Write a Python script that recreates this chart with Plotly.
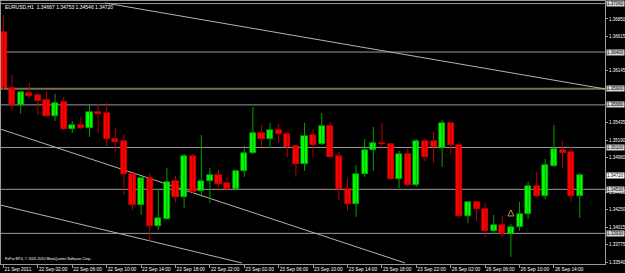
import plotly.graph_objects as go

# ---- data (EURUSD H1) ----
opens = [1.36673, 1.35910, 1.35679, 1.35842, 1.35815, 1.35747, 1.35529, 1.35720, 1.35352, 1.35407,
         1.35366, 1.35584, 1.35570, 1.35216, 1.35189, 1.34739, 1.34317, 1.34685, 1.34031, 1.34126,
         1.34644, 1.34426, 1.34984, 1.34508, 1.34644, 1.34726, 1.34617, 1.34535, 1.34780, 1.35025,
         1.35298, 1.35216, 1.35338, 1.35284, 1.35121, 1.34875, 1.35270, 1.35148, 1.35393, 1.34984,
         1.34535, 1.34331, 1.34739, 1.35066, 1.35161, 1.35148, 1.34671, 1.35012, 1.34590, 1.35189,
         1.35189, 1.35093, 1.35434, 1.35134, 1.34167, 1.34359, 1.34262, 1.33963, 1.34045, 1.33922,
         1.34017, 1.34194, 1.34576, 1.34440, 1.34848, 1.35066, 1.35039, 1.34440]
highs = [1.36905, 1.36088, 1.35870, 1.35979, 1.35829, 1.35870, 1.35829, 1.35788, 1.35461, 1.35515,
         1.35679, 1.35693, 1.35706, 1.35366, 1.35270, 1.34753, 1.34699, 1.34753, 1.34535, 1.34821,
         1.34712, 1.35012, 1.35012, 1.35270, 1.34821, 1.34807, 1.34699, 1.34794, 1.35121, 1.35652,
         1.35407, 1.35434, 1.35420, 1.35311, 1.35134, 1.35434, 1.35352, 1.35570, 1.35447, 1.35039,
         1.34685, 1.34862, 1.35216, 1.35379, 1.35434, 1.35161, 1.35052, 1.35093, 1.35216, 1.35216,
         1.35311, 1.35475, 1.35440, 1.35175, 1.34371, 1.34365, 1.34344, 1.34181, 1.34167, 1.34058,
         1.34359, 1.34630, 1.34766, 1.34944, 1.35407, 1.35189, 1.35107, 1.34753]
lows = [1.35883, 1.35597, 1.35556, 1.35774, 1.35543, 1.35515, 1.35461, 1.35338, 1.35298, 1.35352,
        1.35243, 1.35298, 1.35121, 1.35039, 1.34453, 1.34249, 1.34181, 1.33813, 1.33976, 1.34113,
        1.34359, 1.34276, 1.34480, 1.34426, 1.34344, 1.34562, 1.34508, 1.34521, 1.34699, 1.35012,
        1.35107, 1.35093, 1.35161, 1.34971, 1.34699, 1.34780, 1.34971, 1.35134, 1.34957, 1.34385,
        1.34235, 1.34154, 1.34699, 1.34780, 1.35080, 1.34658, 1.34548, 1.34562, 1.34562, 1.34916,
        1.34889, 1.34835, 1.34998, 1.34140, 1.34072, 1.34099, 1.33881, 1.33922, 1.33881, 1.33609,
        1.33963, 1.34126, 1.34426, 1.34399, 1.34835, 1.34821, 1.34359, 1.34140]
closes = [1.35910, 1.35679, 1.35856, 1.35801, 1.35733, 1.35529, 1.35706, 1.35352, 1.35407, 1.35366,
          1.35584, 1.35556, 1.35216, 1.35175, 1.34739, 1.34317, 1.34685, 1.34031, 1.34140, 1.34630,
          1.34426, 1.34984, 1.34494, 1.34644, 1.34726, 1.34603, 1.34535, 1.34780, 1.35025, 1.35298,
          1.35216, 1.35338, 1.35284, 1.35107, 1.34875, 1.35257, 1.35134, 1.35393, 1.34971, 1.34535,
          1.34331, 1.34739, 1.35066, 1.35161, 1.35148, 1.34671, 1.35012, 1.34590, 1.35189, 1.34971,
          1.35107, 1.35434, 1.35134, 1.34167, 1.34359, 1.34262, 1.33963, 1.34045, 1.33922, 1.34017,
          1.34194, 1.34576, 1.34440, 1.34862, 1.35080, 1.35025, 1.34440, 1.34720]

time_tick_index = [0, 4, 8, 12, 16, 20, 24, 28, 32, 36, 40, 44, 48, 52, 56, 60, 64]
time_tick_labels = ["21 Sep 2011", "22 Sep 02:00", "22 Sep 06:00", "22 Sep 10:00", "22 Sep 14:00",
                    "22 Sep 18:00", "22 Sep 22:00", "23 Sep 02:00", "23 Sep 06:00", "23 Sep 10:00",
                    "23 Sep 14:00", "23 Sep 18:00", "23 Sep 22:00", "26 Sep 02:00", "26 Sep 06:00",
                    "26 Sep 10:00", "26 Sep 14:00"]

price_ticks = [1.37085, 1.36850, 1.36615, 1.36145, 1.35435, 1.35190, 1.34960,
               1.34490, 1.34250, 1.34015, 1.33775, 1.33540]

# horizontal levels (price) and trend lines (bar index, price)
hline_prices = [1.37060, 1.36400, 1.35900, 1.35680, 1.35100, 1.34530, 1.33930]
hline_colors = ["#9a9a9a", "#9a9a9a", "#77714f", "#9a9a9a", "#9a9a9a", "#9a9a9a", "#9a9a9a"]
hline_widths = [1, 1, 2, 1, 1, 1, 1]
trend_x0 = [11.8, -0.29, -0.29]
trend_y0 = [1.37068, 1.35348, 1.34314]
trend_x1 = [69.94, 46.7, 27.73]
trend_y1 = [1.35897, 1.33527, 1.33527]

current_price = 1.34720
arrow_index = [59]
arrow_price = [1.34249]

title_text = "EURUSD,H1  1.34667 1.34753 1.34546 1.34720"
copyright_text = "FxPro MT4, \u00a9 2001-2010 MetaQuotes Software Corp."

FONT = "Liberation Sans"
LBL = 4.5

n = len(opens)
idx = list(range(n))
up = [i for i in idx if closes[i] >= opens[i]]
dn = [i for i in idx if closes[i] < opens[i]]

fig = go.Figure()

def wick_xy(ids):
    xs, ys = [], []
    for i in ids:
        xs += [i, i, None]
        ys += [lows[i], highs[i], None]
    return xs, ys

wx, wy = wick_xy(up)
fig.add_trace(go.Scatter(x=wx, y=wy, mode="lines", line=dict(color="#00a000", width=1),
                         hoverinfo="skip", showlegend=False))
wx, wy = wick_xy(dn)
fig.add_trace(go.Scatter(x=wx, y=wy, mode="lines", line=dict(color="#b00000", width=1),
                         hoverinfo="skip", showlegend=False))

fig.add_trace(go.Bar(x=up, y=[closes[i] - opens[i] for i in up], base=[opens[i] for i in up],
                     width=0.7, marker=dict(color="#00ff00", line=dict(color="#00a000", width=0.6)),
                     showlegend=False))
fig.add_trace(go.Bar(x=dn, y=[opens[i] - closes[i] for i in dn], base=[closes[i] for i in dn],
                     width=0.7, marker=dict(color="#ff0000", line=dict(color="#e00000", width=0.6)),
                     showlegend=False))

fig.add_trace(go.Scatter(x=arrow_index, y=arrow_price, mode="markers",
                         marker=dict(symbol="arrow-up-open", size=6, color="#c89060",
                                     line=dict(width=1, color="#c89060")),
                         showlegend=False, hoverinfo="skip"))

shapes = []
for p, c, w in zip(hline_prices, hline_colors, hline_widths):
    shapes.append(dict(type="line", xref="paper", yref="y", x0=0, x1=1, y0=p, y1=p,
                       line=dict(color=c, width=w), layer="below"))
for a, b, c, d in zip(trend_x0, trend_y0, trend_x1, trend_y1):
    shapes.append(dict(type="line", xref="x", yref="y", x0=a, y0=b, x1=c, y1=d,
                       line=dict(color="#b4b4b4", width=1), layer="below"))

annotations = []
for p in hline_prices:
    annotations.append(dict(xref="paper", yref="y", x=1, y=p, xanchor="left", yanchor="middle",
                            text=f"{p:.5f}", showarrow=False, xshift=1,
                            font=dict(family=FONT, size=LBL, color="#000000"),
                            bgcolor="#d6d6d6", borderpad=0))
annotations.append(dict(xref="paper", yref="y", x=1, y=current_price, xanchor="left", yanchor="middle",
                        text=f"{current_price:.5f}", showarrow=False, xshift=1,
                        font=dict(family=FONT, size=LBL, color="#000000"),
                        bgcolor="#ffffff", borderpad=0))
annotations.append(dict(xref="paper", yref="paper", x=0, y=1, xanchor="left", yanchor="top",
                        text=title_text, showarrow=False, xshift=2, yshift=-1,
                        font=dict(family=FONT, size=5, color="#ffffff")))
annotations.append(dict(xref="paper", yref="paper", x=0, y=0, xanchor="left", yanchor="bottom",
                        text=copyright_text, showarrow=False, xshift=2, yshift=1,
                        font=dict(family=FONT, size=3.6, color="#ffffff")))

fig.update_layout(
    width=625, height=273, autosize=False,
    margin=dict(l=1, r=20, t=1, b=9),
    paper_bgcolor="#000000", plot_bgcolor="#000000",
    barmode="overlay", bargap=0,
    shapes=shapes, annotations=annotations,
    showlegend=False,
    xaxis=dict(range=[-0.29, 69.94], tickmode="array", tickvals=time_tick_index,
               ticktext=time_tick_labels, ticks="outside", ticklen=3, tickcolor="#9a9a9a",
               ticklabelposition="outside right", tickangle=0, automargin=False,
               tickfont=dict(family=FONT, size=4.8, color="#ffffff"),
               showgrid=False, zeroline=False, showline=True, linecolor="#9a9a9a",
               linewidth=1, mirror=True, fixedrange=True),
    yaxis=dict(range=[1.33513, 1.37095], side="right", tickmode="array", tickvals=price_ticks,
               ticktext=[f"{v:.5f}" for v in price_ticks], ticks="outside", ticklen=2,
               tickcolor="#9a9a9a", tickfont=dict(family=FONT, size=LBL, color="#ffffff"),
               automargin=False,
               showgrid=False, zeroline=False, showline=True, linecolor="#9a9a9a",
               linewidth=1, mirror=True, fixedrange=True),
)

fig.write_html("out.html")
